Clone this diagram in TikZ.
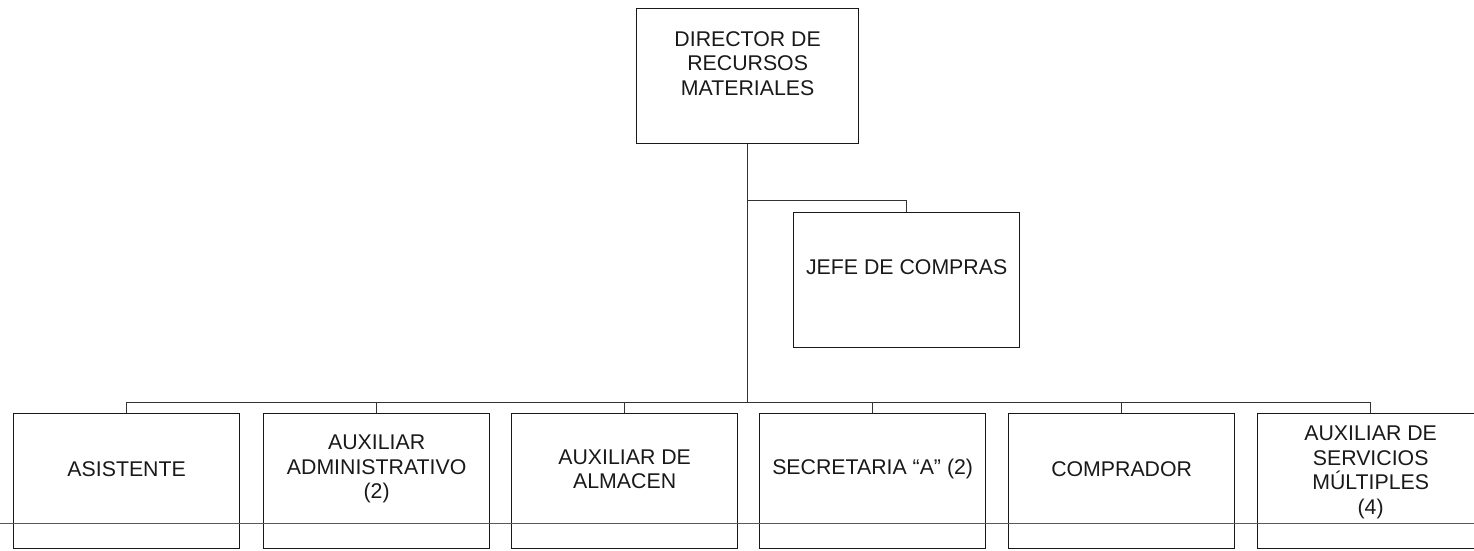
\documentclass[tikz,border=0pt]{standalone}
\usepackage{fontspec}
\setmainfont{Liberation Sans}
\begin{document}
\begin{tikzpicture}[x=1pt,y=-1pt,
  box/.style={draw=black!90, line width=1.3pt, minimum width=226pt, minimum height=135pt, inner sep=0pt, anchor=north west},
  lbl/.style={align=center, font=\fontsize{21.3}{24.5}\selectfont, text=black!90, inner sep=0pt},
  conn/.style={draw=black!80, line width=0.9pt}]
\useasboundingbox (0,0) rectangle (1474,550);
\clip (0,0) rectangle (1474,550);
% boxes
\node[box, minimum width=222pt] (dir) at (636,8) {};
\node[box] (jefe) at (793,212) {};
\node[box] (asis) at (13,413) {};
\node[box] (admin) at (263,413) {};
\node[box] (alm) at (511,413) {};
\node[box] (sec) at (759,413) {};
\node[box] (comp) at (1008,413) {};
\node[box] (serv) at (1257,413) {};
% labels
\node[lbl] (tdir) at ([yshift=12.5pt]dir.center) {DIRECTOR DE\\RECURSOS\\MATERIALES};
\node[lbl] (tjefe) at ([yshift=12.5pt]jefe.center) {JEFE DE COMPRAS};
\node[lbl] (tasis) at ([yshift=12pt]asis.center) {ASISTENTE};
\node[lbl] (tadmin) at ([yshift=12pt]admin.center) {AUXILIAR\\ADMINISTRATIVO\\(2)};
\node[lbl] (talm) at ([yshift=12pt]alm.center) {AUXILIAR DE\\ALMACEN};
\node[lbl] (tsec) at ([yshift=12pt]sec.center) {SECRETARIA “A” (2)};
\node[lbl] (tcomp) at ([yshift=12pt]comp.center) {COMPRADOR};
\node[lbl] (tserv) at ([yshift=9pt]serv.center) {AUXILIAR DE\\SERVICIOS\\MÚLTIPLES\\(4)};
% connectors
\coordinate (jb) at (dir.south |- 0,200);
\coordinate (bus) at (dir.south |- 0,402);
\draw[conn] (dir.south) -- (bus);
\draw[conn] (jb) -| (jefe.north);
\draw[conn] (bus) -| (asis.north);
\draw[conn] (bus) -| (admin.north);
\draw[conn] (bus) -| (alm.north);
\draw[conn] (bus) -| (sec.north);
\draw[conn] (bus) -| (comp.north);
\draw[conn] (bus) -| (serv.north);
% scan line across page
\coordinate (sl) at (0,523);
\coordinate (sr) at (1474,523);
\draw[black!65, line width=0.9pt] (sl) -- (sr);
\end{tikzpicture}
\end{document}
